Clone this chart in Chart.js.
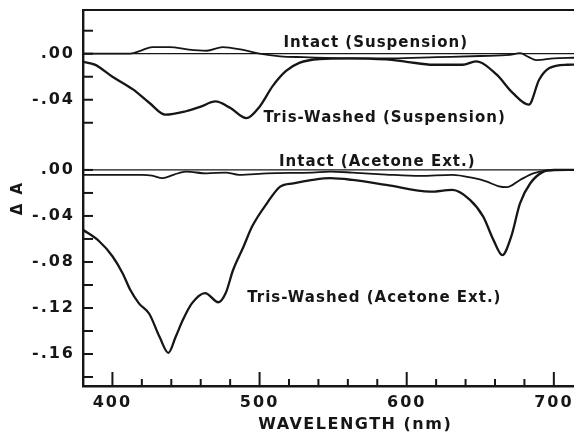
<!DOCTYPE html>
<html>
<head>
<meta charset="utf-8">
<script src="https://cdn.jsdelivr.net/npm/chart.js@4"></script>
<style>
  html, body { margin: 0; padding: 0; background: #fff; }
  #wrap { width: 574px; height: 435px; }
</style>
</head>
<body>
<div id="wrap"><canvas id="chart"></canvas></div>
<script>
// upper panel is drawn on the same axis, shifted up by this much
const TOP_OFFSET = 0.101;

// Intact (Suspension) - upper panel
const intSusWl  = [380, 412, 420, 427, 439, 452, 464, 475, 488, 500, 514, 530, 560, 590, 620, 650, 670, 677, 683, 688, 700, 714];
const intSusVal = [0, 0, 0.003, 0.0058, 0.0058, 0.0035, 0.0026, 0.0058, 0.0035, 0, -0.0023, -0.003, -0.004, -0.004, -0.003, -0.002, -0.001, 0.0005, -0.003, -0.0055, -0.004, -0.0035];

// Tris-Washed (Suspension) - upper panel
const trisSusWl  = [380, 388, 400, 414, 425, 436, 450, 460, 470, 480, 491, 500, 509, 518, 527, 541, 560, 586, 600, 618, 638, 647, 661, 672, 683, 690, 697, 709, 714];
const trisSusVal = [-0.007, -0.0095, -0.020, -0.031, -0.0426, -0.053, -0.050, -0.046, -0.0415, -0.047, -0.056, -0.046, -0.028, -0.015, -0.008, -0.0046, -0.004, -0.005, -0.007, -0.0096, -0.0096, -0.0067, -0.018, -0.034, -0.0443, -0.0226, -0.0125, -0.0096, -0.0095];

// Intact (Acetone Ext.) - lower panel
const intAceWl  = [380, 420, 427, 434, 442, 450, 464, 477, 486, 505, 536, 548, 563, 586, 609, 631, 645, 654, 662, 668, 677, 686, 695, 714];
const intAceVal = [-0.0043, -0.0043, -0.005, -0.0072, -0.004, -0.0015, -0.003, -0.0023, -0.0043, -0.003, -0.0023, -0.0015, -0.0023, -0.004, -0.0052, -0.0043, -0.007, -0.010, -0.014, -0.015, -0.0087, -0.003, -0.0006, 0];

// Tris-Washed (Acetone Ext.) - lower panel
const trisAceWl  = [380, 391, 400, 407, 412, 418, 425, 432, 438, 443, 448, 454, 463, 472, 477, 482, 489, 495, 505, 514, 523, 536, 548, 563, 586, 616, 631, 643, 652, 659, 665, 671, 677, 684, 693, 700, 714];
const trisAceVal = [-0.052, -0.062, -0.075, -0.090, -0.104, -0.116, -0.125, -0.145, -0.159, -0.145, -0.130, -0.116, -0.107, -0.115, -0.107, -0.087, -0.067, -0.049, -0.029, -0.0145, -0.0116, -0.0087, -0.0072, -0.0087, -0.013, -0.0189, -0.0174, -0.026, -0.0406, -0.061, -0.074, -0.058, -0.029, -0.0116, -0.0015, 0, 0];

// axis ticks
const topTickMarks    = [0.02, 0, -0.02, -0.04, -0.06];
const bottomTickMarks = [0, -0.02, -0.04, -0.06, -0.08, -0.10, -0.12, -0.14, -0.16, -0.18];
const topTickVals     = [0, -0.04];
const topTickLabels   = ['.00', '-.04'];
const bottomTickVals  = [0, -0.04, -0.08, -0.12, -0.16];
const bottomTickLabels = ['.00', '-.04', '-.08', '-.12', '-.16'];
const xTickVals  = [400, 500, 600, 700];
const xTickMarks = [400, 420, 440, 460, 480, 500, 520, 540, 560, 580, 600, 620, 640, 660, 680, 700];

// curve labels: [text, wavelength, value, upper panel?]
const curveLabels = [
    ['Intact (Suspension)', 579, 0.0093, true],
    ['Tris-Washed (Suspension)', 585, -0.056, true],
    ['Intact (Acetone Ext.)', 580, 0.0072, false],
    ['Tris-Washed (Acetone Ext.)', 578, -0.1116, false]
];

const INK = '#161616';
const FONT = '"DejaVu Sans", sans-serif';

const yTickValues = topTickVals.map(v => v + TOP_OFFSET).concat(bottomTickVals);
const yTickText = topTickLabels.concat(bottomTickLabels);

function series(wl, val, off, width) {
    return {
        data: wl.map((w, i) => ({ x: w, y: val[i] + off })),
        borderColor: INK,
        borderWidth: width,
        pointRadius: 0,
        cubicInterpolationMode: 'monotone',
        fill: false
    };
}

function seg(ctx, x1, y1, x2, y2) {
    ctx.beginPath();
    ctx.moveTo(x1, y1);
    ctx.lineTo(x2, y2);
    ctx.stroke();
}

function noPad(s) {
    s.paddingTop = 0;
    s.paddingBottom = 0;
    s.paddingLeft = 0;
    s.paddingRight = 0;
}

const frame = {
    id: 'frame',
    beforeDraw(chart) {
        chart.ctx.letterSpacing = '2px';
    },
    beforeDatasetsDraw(chart) {
        const { ctx, chartArea: a, scales: { y } } = chart;
        ctx.save();
        ctx.strokeStyle = INK;
        ctx.lineWidth = 1.3;
        [TOP_OFFSET, 0].forEach(v => {
            const py = y.getPixelForValue(v);
            seg(ctx, a.left, py, a.right, py);
        });
        ctx.lineWidth = 2;
        seg(ctx, a.left, a.top, a.right, a.top);
        ctx.restore();
    },
    afterDraw(chart) {
        const { ctx, chartArea: a, scales: { x, y } } = chart;
        ctx.save();
        ctx.strokeStyle = INK;
        ctx.lineWidth = 2;
        topTickMarks.map(v => v + TOP_OFFSET).concat(bottomTickMarks).forEach(v => {
            const py = y.getPixelForValue(v);
            seg(ctx, a.left, py, a.left + 10, py);
        });
        xTickMarks.forEach(v => {
            const px = x.getPixelForValue(v);
            seg(ctx, px, a.bottom, px, a.bottom - (v % 100 === 0 ? 14 : 7));
        });

        ctx.fillStyle = INK;
        ctx.textAlign = 'center';
        ctx.textBaseline = 'middle';
        ctx.font = 'bold 15px ' + FONT;
        ctx.letterSpacing = '1px';
        curveLabels.forEach(([txt, w, v, upper]) => {
            ctx.fillText(txt, x.getPixelForValue(w), y.getPixelForValue(v + (upper ? TOP_OFFSET : 0)));
        });

        ctx.font = 'bold 16px ' + FONT;
        ctx.letterSpacing = '1.5px';
        ctx.fillText('WAVELENGTH (nm)', x.getPixelForValue(565), a.bottom + 39);
        ctx.restore();
    }
};

new Chart(document.getElementById('chart'), {
    type: 'line',
    data: {
        datasets: [
            series(intSusWl, intSusVal, TOP_OFFSET, 1.8),
            series(trisSusWl, trisSusVal, TOP_OFFSET, 2.3),
            series(intAceWl, intAceVal, 0, 1.8),
            series(trisAceWl, trisAceVal, 0, 2.3)
        ]
    },
    options: {
        responsive: true,
        maintainAspectRatio: false,
        animation: false,
        layout: { padding: { top: 10, right: 0, bottom: 0, left: 0 } },
        plugins: { legend: { display: false }, tooltip: { enabled: false } },
        scales: {
            x: {
                type: 'linear',
                min: 380,
                max: 713.7,
                afterBuildTicks: s => { s.ticks = xTickVals.map(v => ({ value: v })); },
                afterFit: s => { s.height = 49; noPad(s); },
                grid: { display: false, drawTicks: false },
                border: { display: true, color: INK, width: 2.4 },
                ticks: {
                    color: INK,
                    padding: 7,
                    maxRotation: 0,
                    autoSkip: false,
                    font: { family: FONT, size: 16, weight: 'bold' },
                    callback: v => String(v)
                }
            },
            y: {
                type: 'linear',
                min: -0.1878,
                max: 0.139,
                afterBuildTicks: s => { s.ticks = yTickValues.map(v => ({ value: v })); },
                afterFit: s => { s.width = 83; noPad(s); },
                grid: { display: false, drawTicks: false },
                border: { display: true, color: INK, width: 2.4 },
                ticks: {
                    color: INK,
                    padding: 8,
                    autoSkip: false,
                    font: { family: FONT, size: 16, weight: 'bold' },
                    callback: (v, i) => yTickText[i]
                },
                title: {
                    display: true,
                    text: 'Δ A',
                    color: INK,
                    padding: { top: 9, bottom: 0 },
                    font: { family: FONT, size: 15, weight: 'bold' }
                }
            }
        }
    },
    plugins: [frame]
});
</script>
</body>
</html>
